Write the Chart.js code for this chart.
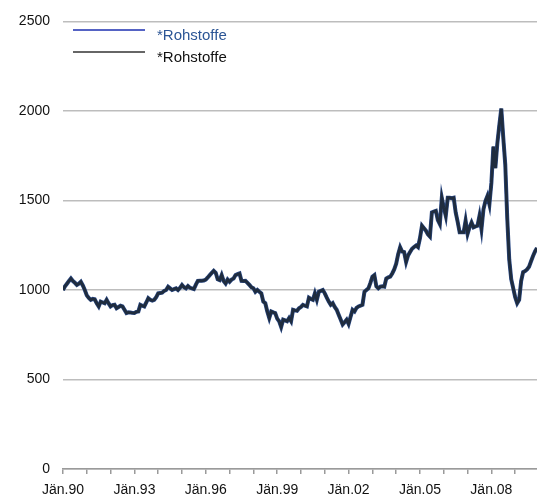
<!DOCTYPE html>
<html>
<head>
<meta charset="utf-8">
<script src="https://cdn.jsdelivr.net/npm/chart.js@4.4.1/dist/chart.umd.min.js"></script>
<style>
    html, body { margin: 0; padding: 0; background: #fff; }
    #wrap { width: 537px; height: 502px; }
</style>
</head>
<body>
<div id="wrap"><canvas id="rohstoffe"></canvas></div>
<script>
// monthly index, Jän.90 = 0 ... Dez.09 = 239
const seriesNames = ["*Rohstoffe", "*Rohstoffe"];
const startYear = 1990;

const rohstoffe = [
    1000, 1020, 1035, 1050, 1064, 1050, 1040, 1028, 1035, 1046, 1025, 1000,
    970, 955, 945, 950, 948, 925, 908, 935, 930, 926, 945, 925,
    908, 915, 917, 898, 905, 912, 908, 890, 871, 875, 874, 872,
    871, 878, 880, 917, 912, 908, 930, 954, 945, 941, 945, 960,
    981, 983, 985, 995, 1000, 1018, 1009, 1000, 1005, 1009, 1000, 1012,
    1028, 1015, 1009, 1022, 1012, 1009, 1005, 1030, 1051, 1052, 1051, 1053,
    1058, 1070, 1083, 1095, 1107, 1096, 1060, 1055, 1083, 1050, 1036, 1058,
    1046, 1058, 1064, 1083, 1088, 1092, 1051, 1050, 1051, 1040, 1028, 1015,
    1009, 990, 1000, 990, 981, 935, 926, 880, 843, 880, 875, 871,
    840, 825, 793, 834, 830, 825, 843, 825, 889, 886, 884, 898,
    905, 917, 912, 908, 957, 950, 945, 981, 945, 990, 995, 1000,
    981, 957, 935, 917, 926, 905, 889, 862, 835, 807, 820, 834,
    810, 850, 889, 880, 900, 908, 912, 917, 990, 1000, 1009, 1040,
    1074, 1083, 1020, 1009, 1018, 1020, 1018, 1064, 1070, 1074, 1092, 1115,
    1147, 1200, 1239, 1215, 1212, 1156, 1193, 1212, 1230, 1240, 1248, 1239,
    1290, 1359, 1345, 1331, 1310, 1298, 1433, 1438, 1442, 1390, 1368, 1515,
    1460, 1414, 1515, 1515, 1512, 1515, 1433, 1380, 1322, 1322, 1322, 1387,
    1313, 1350, 1377, 1350, 1355, 1359, 1414, 1340, 1450, 1497, 1525, 1478,
    1598, 1801, 1681, 1819, 1920, 2013, 1850, 1700, 1400, 1170, 1060, 1010,
    960, 926, 945, 1050, 1100, 1105, 1115, 1130, 1160, 1190, 1215, 1235
];

const yTicks = [0, 500, 1000, 1500, 2000, 2500];
const lineColors = ["#2b4a86", "#1f2c3e"];
const legendTextColors = ["#2b5595", "#111111"];
const legendLineColors = ["#1c2fb0", "#333333"];

const points = rohstoffe.map((v, i) => ({ x: i, y: v }));

// legend drawn by hand: line sample, text slightly below it
const legendPlugin = {
    id: "handLegend",
    afterDraw(chart) {
        const c = chart.ctx;
        c.save();
        c.font = "15px 'Liberation Sans', Arial, sans-serif";
        c.textBaseline = "middle";
        seriesNames.forEach((name, i) => {
            const y = 30 + i * 22;
            c.strokeStyle = legendLineColors[i];
            c.lineWidth = 1.5;
            c.beginPath();
            c.moveTo(73, y);
            c.lineTo(145, y);
            c.stroke();
            c.fillStyle = legendTextColors[i];
            c.fillText(name, 157, y + 6);
        });
        c.restore();
    },
};

new Chart(document.getElementById("rohstoffe"), {
    type: "line",
    data: {
        datasets: [
            {
                label: seriesNames[0],
                data: points,
                borderColor: lineColors[0],
                borderWidth: 4,
                pointRadius: 0,
                tension: 0,
                order: 2,
            },
            {
                label: seriesNames[1],
                data: points,
                borderColor: lineColors[1],
                borderWidth: 2.8,
                pointRadius: 0,
                tension: 0,
                order: 1,
            },
        ],
    },
    options: {
        responsive: true,
        maintainAspectRatio: false,
        animation: false,
        layout: {
            padding: { top: 17, right: 0, bottom: 0, left: 0 },
        },
        scales: {
            x: {
                type: "linear",
                min: 0,
                max: rohstoffe.length - 1,
                afterFit: (scale) => { scale.height = 33; },
                border: { color: "#9a9a9a", width: 1.5 },
                grid: {
                    drawOnChartArea: false,
                    drawTicks: true,
                    tickLength: 5,
                    color: "#9a9a9a",
                    lineWidth: 1.5,
                },
                ticks: {
                    stepSize: 12,
                    includeBounds: false,
                    autoSkip: false,
                    maxRotation: 0,
                    padding: 8,
                    color: "#111",
                    font: { family: "'Liberation Sans', Arial", size: 14 },
                    callback: function (value) {
                        if (value % 36 !== 0) return "";
                        const yy = (startYear + value / 12) % 100;
                        return "Jän." + String(yy).padStart(2, "0");
                    },
                },
            },
            y: {
                min: 0,
                max: 2500,
                afterFit: (scale) => { scale.width = 63; },
                afterBuildTicks: (scale) => {
                    scale.ticks = yTicks.map((v) => ({ value: v }));
                },
                border: { display: false },
                grid: {
                    drawTicks: false,
                    color: "#bdbdbd",
                    lineWidth: 1.5,
                },
                ticks: {
                    padding: 13,
                    color: "#111",
                    font: { family: "'Liberation Sans', Arial", size: 14 },
                    callback: (value) => String(value),
                },
            },
        },
        plugins: {
            legend: { display: false },
            tooltip: { enabled: false },
        },
    },
    plugins: [legendPlugin],
});
</script>
</body>
</html>
